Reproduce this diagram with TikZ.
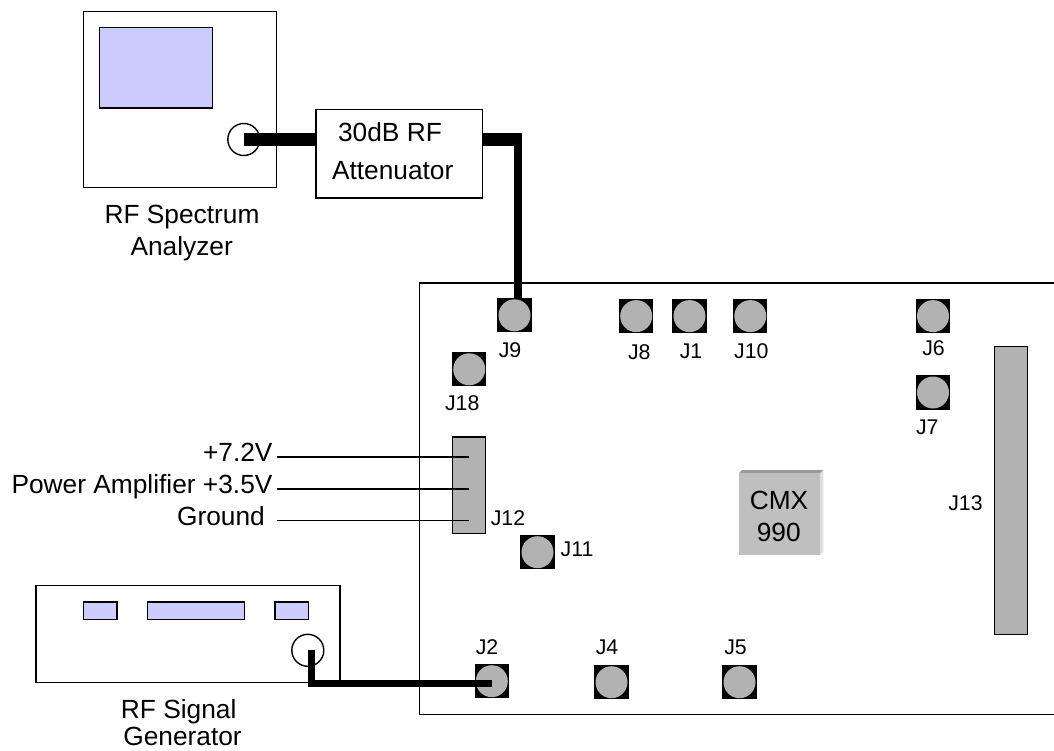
\documentclass[tikz,border=0pt]{standalone}
\usepackage{fontspec}
\usetikzlibrary{calc}
\setmainfont{Liberation Sans}
\definecolor{scr}{RGB}{204,204,255}
\definecolor{gr}{RGB}{178,178,178}
\tikzset{
 x=1pt,y=-1pt,
 box/.style={draw=black,line width=1.5pt,fill=white,inner sep=0pt,outer sep=0pt},
 scrbox/.style={box,fill=scr},
 grbox/.style={box,fill=gr},
 sq/.style={draw=none,fill=black,inner sep=0pt,minimum width=34.3pt,minimum height=34.3pt},
 pad/.style={circle,draw=none,fill=gr,inner sep=0pt,minimum size=32pt},
 port/.style={circle,draw=black,line width=1.4pt,inner sep=0pt,minimum size=32pt},
 lab/.style={font=\fontsize{26.3}{26.3}\selectfont,inner sep=0pt,anchor=base},
 labr/.style={lab,anchor=base east},
 slab/.style={font=\fontsize{21.3}{21.3}\selectfont,inner sep=0pt,anchor=base},
 fat/.style={line width=13pt},
 thin cable/.style={line width=7.5pt},
 wire/.style={line width=1.5pt}
}
\newcommand{\jack}[3]{\node[sq] (#1s) at (#2,#3) {}; \node[pad] (#1) at (#2,#3) {};}
\begin{document}
\begin{tikzpicture}
\useasboundingbox (0,0) rectangle (1054,751);
% instruments
\node[box,minimum width=192.8pt,minimum height=176pt] (an) at (180.1,99.7) {};
\node[scrbox,minimum width=113pt,minimum height=80.3pt] (anscr) at (156,67.9) {};
\node[port] (anp) at (243.8,139.5) {};
\node[box,minimum width=166.7pt,minimum height=88.3pt] (att) at (399.1,153.9) {};
\node[box,minimum width=304.2pt,minimum height=97pt] (gen) at (187.9,634.2) {};
\node[scrbox,minimum width=33.3pt,minimum height=17.3pt] (g1) at (100.3,610.7) {};
\node[scrbox,minimum width=97.1pt,minimum height=17.3pt] (g2) at (196,610.7) {};
\node[scrbox,minimum width=33.5pt,minimum height=17.3pt] (g3) at (291.8,610.7) {};
\node[port] (gport) at (307.8,650.3) {};
% board
\node[box,minimum width=660pt,minimum height=431.3pt] (board) at (749.5,498.7) {};
% cables that run under the pads
\coordinate (upcorner) at (518,139.5);
\coordinate (j9top) at (518,305);
\draw[fat] (anp.center) -- (att.west |- anp.center);
\draw[fat] (att.east |- anp.center) -- (upcorner);
\draw[line width=8pt] ($(upcorner)+(0,-6.5)$) -- (j9top);
% jacks
\jack{j9}{514.5}{315.3}
\jack{j8}{636.2}{316.1}
\jack{j1}{689.5}{316.1}
\jack{j10}{750.3}{316.1}
\jack{j6}{933}{316.1}
\jack{j7}{933}{392.5}
\jack{j18}{469.2}{369.3}
\jack{j11}{537.5}{552.2}
\jack{j2}{491.8}{681.2}
\jack{j4}{611.5}{682.2}
\jack{j5}{739.5}{682.2}
% connectors blocks
\node[grbox,minimum width=33pt,minimum height=96.7pt] (j12) at (469,485.3) {};
\node[grbox,minimum width=33pt,minimum height=288pt] (j13) at (1010.8,490.3) {};
% CMX
\fill[gray!80] (739,473.3) -- (742,470) -- (823.3,470) -- (820,473.3) -- cycle;
\fill[gray!25] (820,473.3) -- (823.3,470) -- (823.3,552) -- (820,555) -- cycle;
\node[fill=gray!50,minimum width=81pt,minimum height=81.7pt,inner sep=0pt] (cmx) at (779.5,514.2) {};
% power wires
\coordinate (p1) at (277,457);
\coordinate (p2) at (277,489);
\coordinate (p3) at (277,520.7);
\draw[wire] (p1) -- (j12.center |- p1);
\draw[wire] (p2) -- (j12.center |- p2);
\draw[wire] (p3) -- (j12.center |- p3);
% signal cable
\coordinate (gc) at (311.6,683.5);
\coordinate (gs) at (311.6,650);
\draw[thin cable,line join=miter] (gs) -- (gc) -- (j2.center |- gc);
% labels
\node[lab] (t1) at (182,223.3) {RF Spectrum};
\node[lab] (t2) at (181.7,255) {Analyzer};
\node[lab] (t3) at (390,142) {30dB RF};
\node[lab] (t4) at (392.7,179.7) {Attenuator};
\node[lab] (t5) at (178.7,718.3) {RF Signal};
\node[lab] (t6) at (182.5,745.5) {Generator};
\node[labr] (t7) at (272.7,461) {+7.2V};
\node[labr] (t8) at (272.7,493) {Power Amplifier +3.5V};
\node[labr] (t9) at (265,525) {Ground};
\node[lab] (t10) at (779,509.3) {CMX};
\node[lab] (t11) at (778.7,541.7) {990};
\node[slab] (l9) at (510,357.7) {J9};
\node[slab] (l8) at (639.3,359) {J8};
\node[slab] (l1) at (691,358) {J1};
\node[slab] (l10) at (751.3,358.3) {J10};
\node[slab] (l6) at (933.5,355) {J6};
\node[slab] (l7) at (927.3,434) {J7};
\node[slab] (l18) at (462.2,410.7) {J18};
\node[slab] (l12) at (508,525) {J12};
\node[slab] (l11) at (577,556) {J11};
\node[slab] (l13) at (965.5,510.7) {J13};
\node[slab] (l2) at (487,654) {J2};
\node[slab] (l4) at (607,654) {J4};
\node[slab] (l5) at (735.5,654) {J5};
\end{tikzpicture}
\end{document}
